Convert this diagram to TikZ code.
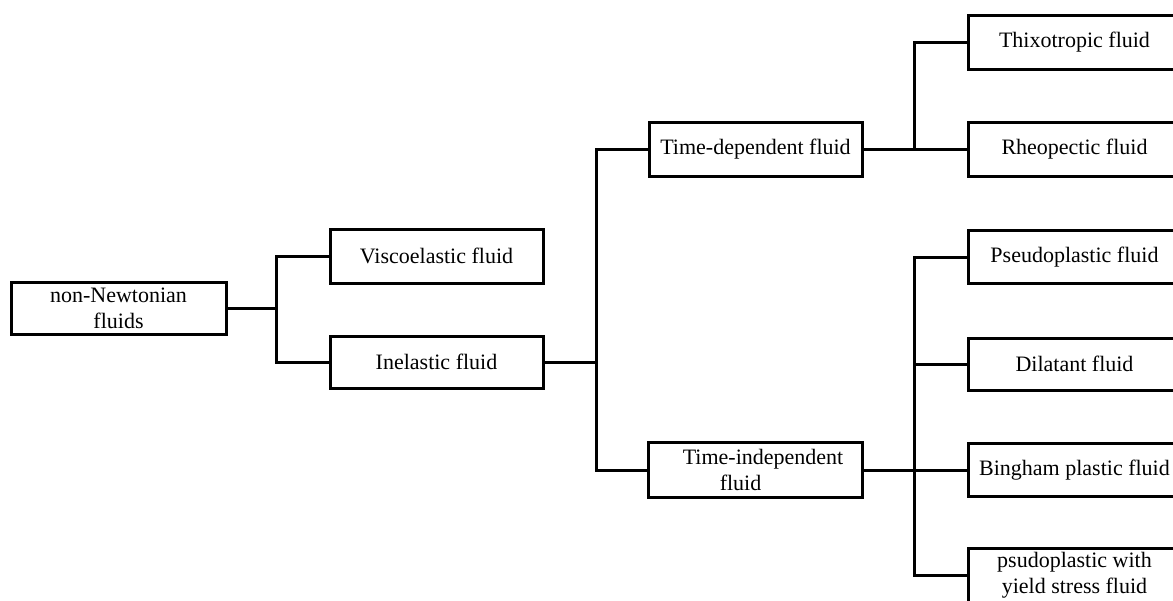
\documentclass[tikz,border=0pt]{standalone}
\usepackage{fontspec}
\setmainfont{Liberation Serif}
\begin{document}
\begin{tikzpicture}[x=1pt,y=-1pt,
  box/.style={draw=black, line width=3pt, fill=white, inner sep=0pt,
    minimum width=213pt, minimum height=54pt, align=center,
    font=\fontsize{22}{26}\selectfont},
  conn/.style={draw=black, line width=3pt}]
\useasboundingbox (0,0) rectangle (1173,600);
\clip (0,0) rectangle (1173,600);
% junction x positions
\coordinate (j1) at (276,0);
\coordinate (j2) at (596,0);
\coordinate (j3) at (914,0);
% nodes
\node[box, minimum width=215pt, minimum height=52pt] (nn) at (118.5,308) {non-Newtonian\\fluids};
\node[box] (visco) at (436.5,256) {Viscoelastic fluid};
\node[box, minimum height=52pt] (inel) at (436.5,362) {Inelastic fluid};
\node[box] (td) at (755.5,149) {Time-dependent fluid};
\node[box, minimum width=214pt, minimum height=55pt, align=left] (ti) at (755,470) {\hspace*{16pt}Time-independent\\\hspace*{53pt}fluid};
\node[box] (thix) at (1074.5,42) {Thixotropic fluid};
\node[box] (rheo) at (1074.5,149) {Rheopectic fluid};
\node[box, minimum height=53pt] (pseudo) at (1074.5,257) {Pseudoplastic fluid};
\node[box, minimum height=52pt] (dil) at (1074.5,364) {Dilatant fluid};
\node[box, minimum height=53pt] (bing) at (1074.5,470) {Bingham plastic fluid};
\node[box] (psy) at (1074.5,575) {psudoplastic with\\yield stress fluid};
% connectors
\draw[conn] (nn.east) -- (nn.east -| j1);
\draw[conn] (visco.west) -- (visco.west -| j1) |- (inel.west);
\draw[conn] (inel.east) -- (inel.east -| j2);
\draw[conn] (td.west) -- (td.west -| j2) |- (ti.west);
\draw[conn] (td.east) -- (rheo.west);
\draw[conn] (thix.west) -- (thix.west -| j3) -- (rheo.west -| j3);
\draw[conn] (ti.east) -- (bing.west);
\draw[conn] (pseudo.west) -- (pseudo.west -| j3) |- (psy.west);
\draw[conn] (dil.west) -- (dil.west -| j3);
\end{tikzpicture}
\end{document}
